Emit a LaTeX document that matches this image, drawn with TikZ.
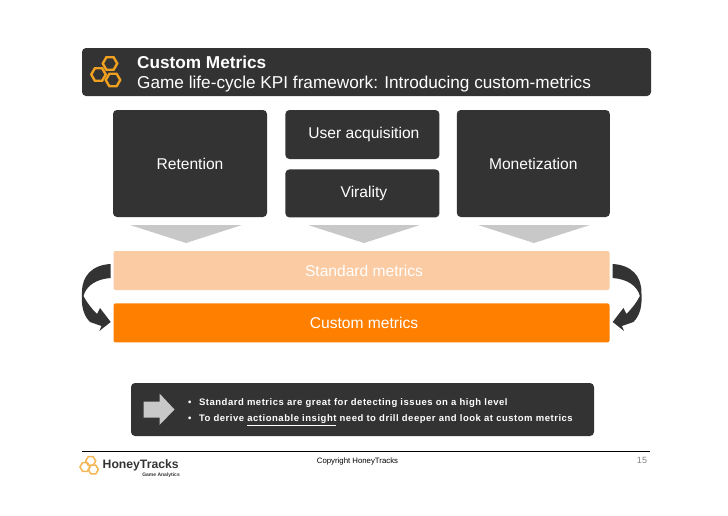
\documentclass[tikz,border=0pt]{standalone}
\usepackage{fontspec}
\setmainfont{Liberation Sans}
\usetikzlibrary{positioning,shapes.geometric}
\definecolor{htdark}{RGB}{51,51,51}
\definecolor{htgrey}{RGB}{200,200,200}
\definecolor{htpeach}{RGB}{251,203,163}
\definecolor{htorange}{RGB}{255,128,0}
\definecolor{hthoney}{RGB}{240,160,32}
\tikzstyle{darkbox} = [rectangle, rounded corners=4pt, inner sep=0pt, fill=htdark, text=white, font=\fontsize{15.6}{18}\selectfont, text centered]
\tikzstyle{metricbar} = [rectangle, rounded corners=2pt, inner sep=0pt, minimum width=496pt, minimum height=39pt, text=white, font=\fontsize{15.6}{18}\selectfont]
\tikzstyle{funnel} = [fill=htgrey]
\tikzstyle{hexa} = [regular polygon, regular polygon sides=6, inner sep=0pt, line width=2.4pt, draw=hthoney]
\tikzstyle{sidearrow} = [fill=htdark]
\begin{document}
\begin{tikzpicture}[x=1pt,y=-1pt]
\useasboundingbox (0,0) rectangle (728,515);

% title bar
\node[darkbox, minimum width=569pt, minimum height=48pt] (title) at (366.5,72) {};
\node[anchor=west, inner sep=0pt, text=white, font=\fontsize{17.2}{20}\selectfont, align=left] (titletext) at (137,74.5) {\textbf{Custom Metrics}\\Game life-cycle KPI framework: Introducing custom-metrics};
\node[hexa, minimum size=14.5pt] (hexa1) at (110,63.5) {};
\node[hexa, minimum size=14.5pt] (hexa2) at (98.5,74.5) {};
\node[hexa, minimum size=14.5pt] (hexa3) at (113,80) {};

% kpi boxes
\node[darkbox, minimum width=154pt, minimum height=107pt] (retention) at (190,163.5) {Retention};
\node[darkbox, minimum width=154pt, minimum height=49pt, right=18pt of retention.north east, anchor=north west] (acquisition) {\hspace{3pt}User acquisition};
\node[darkbox, minimum width=154pt, minimum height=48pt, below=10pt of acquisition] (virality) {\hspace{3pt}Virality};
\node[darkbox, minimum width=153pt, minimum height=107pt, right=17pt of acquisition.north east, anchor=north west] (monetization) {Monetization};

% funnels
\fill[funnel] (130,225) -- (242,225) -- (186,243) -- cycle;
\fill[funnel] (308,225) -- (420,225) -- (364,243) -- cycle;
\fill[funnel] (478,225) -- (590,225) -- (534,243) -- cycle;

% metric bars
\node[metricbar, fill=htpeach] (standard) at (361.5,270.5) {\hspace{5pt}Standard metrics};
\node[metricbar, fill=htorange, below=13pt of standard] (custom) {\hspace{5pt}Custom metrics};

% side arrows
\tikzset{turnarrow/.pic={
\fill[sidearrow] (110.7,264) .. controls (92,265) and (82,276) .. (82,292)
  .. controls (81,305) and (83,315) .. (90,322) -- (101.5,326) -- (99.3,331) -- (110.7,322) -- (100,308) -- (97,314)
  .. controls (92,309) and (87,303) .. (83.5,296) .. controls (86,286) and (96,279) .. (110.7,278) -- cycle;
}}
\pic {turnarrow};
\pic[transform shape, xshift=723.4pt, xscale=-1] {turnarrow};

% note box
\node[darkbox, minimum width=463pt, minimum height=53pt] (note) at (362.5,409.5) {};
\fill[htgrey] (143.5,401.5) -- (159.5,401.5) -- (159.5,393.5) -- (174.5,409.5) -- (159.5,425) -- (159.5,417.5) -- (143.5,417.5) -- cycle;
\node[anchor=west, inner sep=0pt, text=white, font=\fontsize{9.5}{17}\selectfont\bfseries\addfontfeature{LetterSpace=5.5}, align=left] (notetext) at (188,412) {•\hspace{7.5pt}Standard metrics are great for detecting issues on a high level\\[-0.5pt]•\hspace{7.5pt}To derive \underline{actionable insight} need to drill deeper and look at custom metrics};

% footer
\coordinate (rulel) at (82,451);
\coordinate (ruler) at (650,451);
\draw[black, line width=0.8pt] (rulel) -- (ruler);
\node[hexa, line width=1.6pt, minimum size=10pt, draw=hthoney!75] (hexa4) at (90.7,461) {};
\node[hexa, line width=1.6pt, minimum size=10pt, draw=hthoney!75] (hexa5) at (85,467) {};
\node[hexa, line width=1.6pt, minimum size=10pt, draw=hthoney!75] (hexa6) at (93.3,469.5) {};
\node[anchor=west, inner sep=0pt, text=htdark, font=\fontsize{12.2}{16}\selectfont\bfseries] (brand) at (102.5,465) {HoneyTracks};
\node[anchor=east, inner sep=0pt, text=htdark, font=\fontsize{5}{6}\selectfont\bfseries] (brandsub) at (180,475) {Game Analytics};
\node[inner sep=0pt, font=\fontsize{7.8}{10}\selectfont] (copyright) at (357.5,461) {Copyright HoneyTracks};
\node[inner sep=0pt, text=gray, font=\fontsize{9}{10}\selectfont\addfontfeature{LetterSpace=5}] (pagenum) at (642,460) {15};
\end{tikzpicture}
\end{document}
